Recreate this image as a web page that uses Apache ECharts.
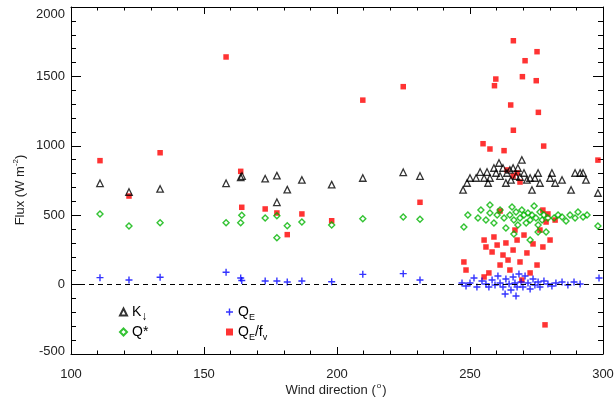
<!DOCTYPE html>
<html><head><meta charset="utf-8">
<script src="https://cdn.jsdelivr.net/npm/echarts@6/dist/echarts.min.js"></script>
<style>html,body{margin:0;padding:0;background:#fff}#c{width:614px;height:403px}</style>
</head><body><div id="c"></div>
<script>
// Axis ticks
const xTicks = [100, 150, 200, 250, 300];
const yTicks = [-500, 0, 500, 1000, 1500, 2000];

// K (incoming shortwave) [wind direction, flux]
const kDown = [
  [110.9,730],[121.8,667],[133.5,689],[158.3,730],[163.8,773],[164.3,782],[173.0,763],[177.4,785],[177.4,593],
  [181.3,684],[186.8,754],[198.0,720],[209.7,768],[224.9,809],[231.2,782],
  [247.4,682],[248.9,732],[250.0,768],[252.3,768],[253.8,811],[255.3,768],[256.4,811],[256.8,732],[257.5,768],
  [259.0,840],[259.8,804],[260.9,876],[261.3,782],[262.4,840],[263.5,732],[263.9,804],[265.0,826],[265.4,754],
  [266.2,840],[267.3,782],[268.0,840],[268.8,775],[269.5,898],[270.3,804],[271.4,754],[272.6,768],[273.3,682],
  [274.4,768],[275.6,804],[276.3,732],[280.1,768],[280.8,804],[282.0,732],[284.6,754],[288.0,682],[289.5,804],
  [291.4,804],[292.5,804],[293.6,754],[298.1,660]
];
// Q* (net radiation)
const qStar = [
  [110.9,509],[121.8,422],[133.5,446],[158.3,446],[163.8,446],[164.2,499],[173.0,480],[177.4,496],[177.4,338],
  [181.3,424],[186.8,451],[198.0,429],[209.7,475],[224.9,487],[231.2,470],
  [247.7,415],[249.2,501],[253.0,480],[254.1,537],[256.0,465],[257.5,516],[259.0,444],[260.2,501],[261.3,537],
  [262.8,480],[263.5,408],[265.0,501],[265.8,559],[266.5,465],[267.3,523],[268.0,429],[268.8,480],[269.5,537],
  [270.3,501],[271.1,444],[271.8,516],[272.6,465],[273.3,501],[274.1,566],[274.8,480],[275.6,429],[276.3,523],
  [277.1,465],[277.8,501],[278.6,379],[279.3,480],[281.6,480],[283.1,501],[284.6,487],[286.1,458],[287.6,501],
  [289.5,480],[290.6,523],[292.5,487],[294.0,501],[298.1,422],[272.6,321],[266.5,365],[275.6,379],[257.5,574]
];
// QE (latent heat flux)
const qE = [
  [110.9,50],[121.8,33],[133.5,53],[158.3,89],[163.8,48],[164.2,30],[173.0,26],[177.4,26],[181.3,19],
  [186.8,26],[198.0,21],[209.7,74],[224.9,79],[231.2,33],
  [247.0,12],[248.5,-10],[250.0,12],[251.5,48],[252.6,-17],[254.5,26],[256.0,4],[257.1,-17],[258.3,33],
  [259.4,-3],[260.5,62],[261.3,12],[262.4,-17],[263.5,40],[264.7,4],[265.4,-39],[266.2,55],[266.9,12],
  [267.7,-17],[268.4,76],[269.2,19],[269.9,-17],[270.7,62],[271.8,12],[272.6,-32],[273.7,40],[274.4,-3],
  [275.6,19],[276.3,-17],[277.8,26],[279.3,4],[280.8,-10],[282.3,12],[284.6,19],[286.8,-3],[289.1,19],
  [291.4,4],[298.5,48],[263.2,-68],[267.3,-82]
];
// QE / fv
const qEfv = [
  [110.9,893],[121.8,638],[133.5,950],[158.3,1640],[163.8,816],[164.2,557],[173.0,545],[177.4,516],[181.3,360],
  [186.8,509],[198.0,460],[209.7,1329],[224.9,1426],[231.2,593],
  [266.3,1757],[275.2,1678],[270.7,1613],[269.7,1498],[274.9,1469],[259.7,1481],[259.2,1433],[265.3,1294],
  [275.7,1241],[266.3,1112],[254.9,1015],[257.5,977],[262.8,965],[277.7,998],[298.1,897],
  [247.7,163],[248.5,105],[255.3,55],[256.0,271],[257.1,84],[258.3,235],[259.0,343],[260.2,285],[261.3,141],
  [262.4,213],[263.5,300],[264.3,177],[265.0,105],[266.2,249],[266.9,393],[267.7,321],[268.8,163],[269.5,33],
  [270.3,357],[271.4,228],[272.6,84],[273.7,293],[275.2,141],[276.3,393],[277.4,271],[278.6,451],[280.1,321],
  [282.0,465],[278.2,-290],[263.9,826],[266.2,782],[267.7,804],[268.8,739],[277.4,537],[279.3,509],[261.3,530],
  [255.3,321]
];

const FONT = 'Liberation Sans, Arial, Helvetica, sans-serif';
const plusPath = 'path://M2.4,0H3.6V2.4H6V3.6H3.6V6H2.4V3.6H0V2.4H2.4Z';

const chart = echarts.init(document.getElementById('c'), null, {renderer: 'canvas'});

const axisCommon = {
  axisLine: {show: true, onZero: false, lineStyle: {color: '#000', width: 1}},
  splitLine: {show: false},
  minorTick: {show: true, splitNumber: 5, lineStyle: {color: '#000'}},
};

const legendText = {
  fontSize: 14, color: '#000', fontFamily: FONT,
  rich: {
    sub: {fontSize: 9, fontFamily: FONT, color: '#000', padding: [12, 0, 0, 0]},
    arr: {fontSize: 12, fontFamily: FONT, color: '#000', padding: [10, 0, 0, 0]}
  }
};
const legendNames = {K: 'K{arr|↓}', Qstar: 'Q*', QE: 'Q{sub|E}', QEfv: 'Q{sub|E}/f{sub|v}'};
function mkLegend(name, left, top) {
  return {
    data: [name], left: left, top: top, orient: 'vertical', padding: 0,
    itemWidth: 7, itemHeight: 7, itemGap: 0, selectedMode: false,
    formatter: n => legendNames[n], textStyle: legendText
  };
}

chart.setOption({
  animation: false,
  backgroundColor: '#fff',
  grid: {left: 71, right: 11, top: 7, bottom: 49, containLabel: false, outerBoundsMode: 'none'},
  xAxis: [
    Object.assign({}, axisCommon, {
      type: 'value', min: xTicks[0], max: xTicks[xTicks.length - 1], interval: 50, position: 'bottom',
      axisTick: {show: true, inside: true, length: 7, lineStyle: {color: '#000'}},
      minorTick: {show: true, splitNumber: 5, length: 3.5, lineStyle: {color: '#000'}},
      axisLabel: {show: true, margin: 14, fontSize: 13, color: '#222', fontFamily: FONT}
    }),
    Object.assign({}, axisCommon, {
      type: 'value', min: xTicks[0], max: xTicks[xTicks.length - 1], interval: 50, position: 'top',
      axisTick: {show: true, inside: true, length: 7, lineStyle: {color: '#000'}},
      minorTick: {show: true, splitNumber: 5, length: 3.5, lineStyle: {color: '#000'}},
      axisLabel: {show: false}
    })
  ],
  yAxis: [
    Object.assign({}, axisCommon, {
      type: 'value', min: yTicks[0], max: yTicks[yTicks.length - 1], interval: 500, position: 'left',
      axisTick: {show: true, inside: true, length: 10, lineStyle: {color: '#000'}},
      minorTick: {show: true, splitNumber: 5, length: 5, lineStyle: {color: '#000'}},
      axisLabel: {show: true, margin: 6, fontSize: 13, color: '#222', fontFamily: FONT,
        formatter: v => v === yTicks[yTicks.length - 1] ? '{t|' + v + '}' : (v === yTicks[0] ? '{b|' + v + '}' : String(v)),
        rich: {t: {fontSize: 13, fontFamily: FONT, color: '#222', padding: [14, 0, 0, 0]},
               b: {fontSize: 13, fontFamily: FONT, color: '#222', padding: [0, 0, 6, 0]}}}
    }),
    Object.assign({}, axisCommon, {
      type: 'value', min: yTicks[0], max: yTicks[yTicks.length - 1], interval: 500, position: 'right',
      axisTick: {show: true, inside: true, length: 10, lineStyle: {color: '#000'}},
      minorTick: {show: true, splitNumber: 5, length: 5, lineStyle: {color: '#000'}},
      axisLabel: {show: false}
    })
  ],
  legend: [
    mkLegend('K', 119, 305),
    mkLegend('Qstar', 119, 325),
    mkLegend('QE', 226, 305),
    mkLegend('QEfv', 226, 325)
  ],
  series: [
    {
      name: 'QEfv', type: 'scatter', data: qEfv, symbol: 'rect', symbolSize: 5.5,
      itemStyle: {color: '#ff0000'},
      markLine: {
        silent: true, symbol: 'none', label: {show: false},
        lineStyle: {color: '#000', type: [5, 4], width: 1},
        data: [{yAxis: 0}]
      }
    },
    {
      name: 'K', type: 'scatter', data: kDown, symbol: 'triangle', symbolSize: 6.5,
      itemStyle: {color: 'rgba(0,0,0,0)', borderColor: '#000', borderWidth: 1.3}
    },
    {
      name: 'Qstar', type: 'scatter', data: qStar, symbol: 'diamond', symbolSize: 6,
      itemStyle: {color: 'rgba(0,0,0,0)', borderColor: '#00b400', borderWidth: 1.4}
    },
    {
      name: 'QE', type: 'scatter', data: qE, symbol: plusPath, symbolSize: 7,
      itemStyle: {color: '#0000ff'}
    }
  ],
  graphic: [
    {
      type: 'text', x: 336, y: 390,
      style: {text: 'Wind direction ({sup|o})', fontSize: 13, fontFamily: FONT, fill: '#222',
        align: 'center', verticalAlign: 'middle',
        rich: {sup: {fontSize: 8, fontFamily: FONT, fill: '#222', padding: [0, 1, 9, 1]}}}
    },
    {
      type: 'text', x: 20, y: 190, rotation: Math.PI / 2,
      style: {text: 'Flux (W m{sup|-2})', fontSize: 13, fontFamily: FONT, fill: '#222',
        align: 'center', verticalAlign: 'middle',
        rich: {sup: {fontSize: 8, fontFamily: FONT, fill: '#222', padding: [0, 0, 9, 0]}}}
    }
  ]
});
</script>
</body></html>
